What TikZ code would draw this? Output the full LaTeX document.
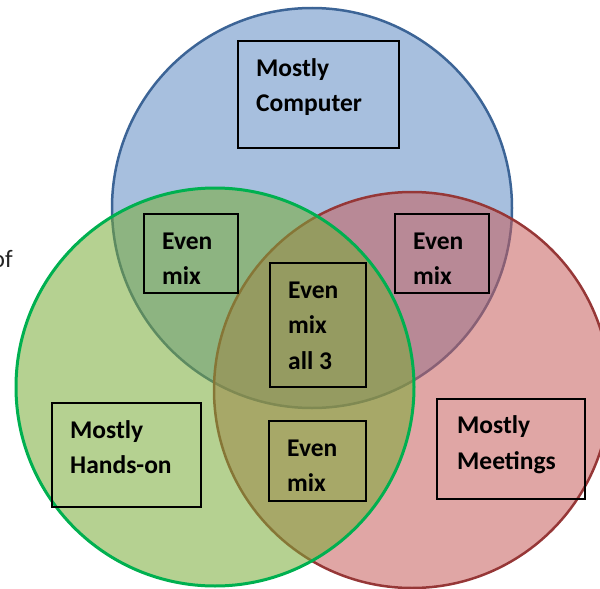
\documentclass[tikz,border=0pt]{standalone}
\usepackage{fontspec}
\setmainfont{Carlito}
\usetikzlibrary{calc}
\definecolor{bluefill}{RGB}{95,139,195}
\definecolor{blueline}{RGB}{60,100,150}
\definecolor{redfill}{RGB}{199,93,91}
\definecolor{redline}{RGB}{150,55,55}
\definecolor{greenfill}{RGB}{121,171,54}
\definecolor{greenline}{RGB}{0,176,80}
\begin{document}
\begin{tikzpicture}[x=1pt,y=-1pt,
  setcircle/.style={fill opacity=0.55, draw opacity=1, line width=2.5pt},
  boxstyle/.style={draw=black, line width=1.5pt, inner sep=0pt, outer sep=0pt, anchor=north west},
  lbl/.style={anchor=base west, align=left, inner sep=0pt, font=\bfseries\fontsize{25.5}{35.5}\selectfont}]
\useasboundingbox (0,0) rectangle (600,589);
% circles
\coordinate (cb) at (312,208);
\coordinate (cr) at (412,390);
\coordinate (cg) at (215,387);
\path[setcircle, fill=bluefill, draw=blueline] (cb) circle[radius=200];
\path[setcircle, fill=redfill, draw=redline] (cr) circle[radius=198];
\path[setcircle, fill=greenfill, draw=greenline, line width=3pt] (cg) circle[radius=199];
% boxes
\node[boxstyle, minimum width=161pt, minimum height=107pt] (comp) at (238,41) {};
\node[boxstyle, minimum width=94pt, minimum height=79pt] (evl) at (144,214) {};
\node[boxstyle, minimum width=94pt, minimum height=79pt] (evr) at (395,214) {};
\node[boxstyle, minimum width=96pt, minimum height=124pt] (all) at (270,263) {};
\node[boxstyle, minimum width=97pt, minimum height=80pt] (evb) at (269,421) {};
\node[boxstyle, minimum width=149pt, minimum height=104pt] (hands) at (52,403) {};
\node[boxstyle, minimum width=148pt, minimum height=100pt] (meet) at (437,399) {};
% texts (base anchor = baseline of the last line)
\node[lbl] (tcomp) at ($(comp.north west)+(18,70.5)$) {Mostly\\Computer};
\node[lbl] (tevl) at ($(evl.north west)+(18,70.5)$) {Even\\mix};
\node[lbl] (tevr) at ($(evr.north west)+(18,70.5)$) {Even\\mix};
\node[lbl] (tall) at ($(all.north west)+(18,106)$) {Even\\mix\\all 3};
\node[lbl] (tevb) at ($(evb.north west)+(18,70.5)$) {Even\\mix};
\node[lbl] (thands) at ($(hands.north west)+(18,70.5)$) {Mostly\\Hands-on};
\node[lbl] (tmeet) at ($(meet.north west)+(20,70)$) {Mostly\\Meetings};
\node[anchor=base east, inner sep=0pt, font=\fontsize{25}{29}\selectfont, text=black!85] (of) at (13,267) {of};
\end{tikzpicture}
\end{document}
